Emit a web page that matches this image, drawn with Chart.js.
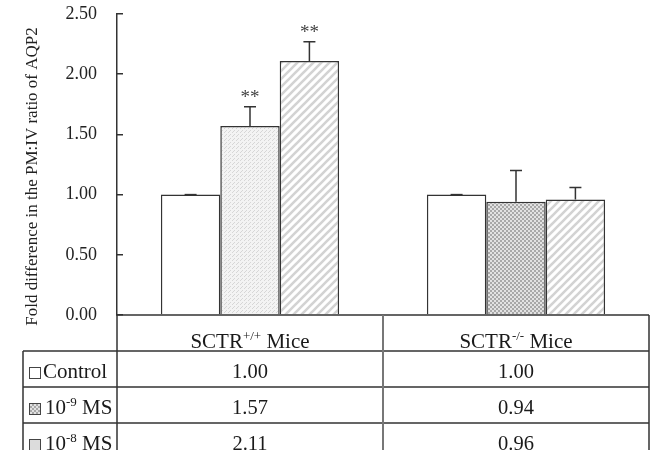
<!DOCTYPE html>
<html><head><meta charset="utf-8">
<script src="https://cdn.jsdelivr.net/npm/chart.js@4.4.1/dist/chart.umd.min.js"></script>
<style>html,body{margin:0;padding:0;background:#fff;}</style>
</head><body>
<canvas id="c" width="651" height="450"></canvas>
<script>
// ---- data ----
const categoryMain = ['SCTR', 'SCTR'];
const categorySup = ['+/+', '-/-'];
const categoryTail = [' Mice', ' Mice'];
const seriesMain = ['Control', '10', '10'];
const seriesSup = ['', '-9', '-8'];
const seriesTail = ['', ' MS', ' MS'];
const controlValues = [1.00, 1.00];
const ms9Values = [1.57, 0.94];
const ms8Values = [2.11, 0.96];
const controlErr = [0, 0];
const ms9Err = [0.16, 0.26];
const ms8Err = [0.16, 0.10];
const controlSig = ['', ''];
const ms9Sig = ['**', ''];
const ms8Sig = ['**', ''];
const yTicks = [0, 0.5, 1.0, 1.5, 2.0, 2.5];
const yTitle = 'Fold difference in the PM:IV ratio of AQP2';

const SERIF = '"Liberation Serif", "Times New Roman", serif';

// ---- patterns ----
function makeTile(size, draw) {
  const c = document.createElement('canvas');
  c.width = size; c.height = size;
  const g = c.getContext('2d');
  draw(g, size);
  return document.getElementById('c').getContext('2d').createPattern(c, 'repeat');
}
const dotPat = makeTile(4, (g) => {
  g.fillStyle = '#f3f3f3'; g.fillRect(0, 0, 4, 4);
  g.fillStyle = '#d6d6d6'; g.fillRect(0, 0, 1, 1); g.fillRect(2, 2, 1, 1); g.fillRect(1, 3, 1, 1);
});
const checkPat = makeTile(4, (g) => {
  g.fillStyle = '#e2e2e2'; g.fillRect(0, 0, 4, 4);
  g.fillStyle = '#a8a8a8'; g.fillRect(0, 0, 2, 2); g.fillRect(2, 2, 2, 2);
});
const stripePat = makeTile(8, (g, s) => {
  g.fillStyle = '#ffffff'; g.fillRect(0, 0, s, s);
  g.strokeStyle = '#d3d3d3'; g.lineWidth = 2.6;
  g.beginPath();
  g.moveTo(0, s); g.lineTo(s, 0);
  g.moveTo(-s / 2, s / 2); g.lineTo(s / 2, -s / 2);
  g.moveTo(s / 2, s * 1.5); g.lineTo(s * 1.5, s / 2);
  g.stroke();
});
const swatchFills = ['#ffffff', checkPat, '#dcdcdc'];

// ---- plugin: error bars, stars, y title, table ----
function richText(ctx, parts, x, baseline, align) {
  const sizes = [21, 13, 21];
  let w = 0;
  parts.forEach((p, i) => { ctx.font = sizes[i] + 'px ' + SERIF; w += ctx.measureText(p).width; });
  let cx = align === 'center' ? x - w / 2 : x;
  ctx.textAlign = 'left'; ctx.textBaseline = 'alphabetic';
  parts.forEach((p, i) => {
    ctx.font = sizes[i] + 'px ' + SERIF;
    ctx.fillText(p, cx, baseline - (i === 1 ? 8 : 0));
    cx += ctx.measureText(p).width;
  });
}

const extras = {
  id: 'extras',
  afterDatasetsDraw(chart) {
    const ctx = chart.ctx, ys = chart.scales.y;
    chart.data.datasets.forEach((ds, i) => {
      const meta = chart.getDatasetMeta(i);
      meta.data.forEach((bar, j) => {
        const top = ys.getPixelForValue(ds.data[j] + ds.errors[j]);
        ctx.save();
        ctx.strokeStyle = '#333'; ctx.lineWidth = 1.5;
        ctx.beginPath();
        ctx.moveTo(bar.x, bar.y); ctx.lineTo(bar.x, top);
        ctx.moveTo(bar.x - 6, top); ctx.lineTo(bar.x + 6, top);
        ctx.stroke();
        if (ds.sig[j]) {
          ctx.fillStyle = '#444';
          ctx.font = '19px ' + SERIF;
          ctx.textAlign = 'center'; ctx.textBaseline = 'alphabetic';
          ctx.fillText(ds.sig[j], bar.x, top - 4);
        }
        ctx.restore();
      });
    });
  },
  afterDraw(chart) {
    const ctx = chart.ctx, a = chart.chartArea, xs = chart.scales.x;
    const H = chart.height;
    ctx.save();
    // y title
    ctx.fillStyle = '#222';
    ctx.font = '17px ' + SERIF;
    ctx.translate(33, (a.top + a.bottom) / 2 + 12);
    ctx.rotate(-Math.PI / 2);
    ctx.textAlign = 'center'; ctx.textBaseline = 'middle';
    ctx.fillText(yTitle, 0, 0);
    ctx.restore();

    // table
    const rowH = 36, labelLeft = 23, top = a.bottom;
    const mid = (xs.getPixelForValue(0) + xs.getPixelForValue(1)) / 2;
    ctx.save();
    ctx.strokeStyle = '#333'; ctx.lineWidth = 1.5;
    ctx.beginPath();
    ctx.moveTo(a.left, top); ctx.lineTo(a.right, top);
    for (let k = 1; k <= 3; k++) { ctx.moveTo(labelLeft, top + rowH * k); ctx.lineTo(a.right, top + rowH * k); }
    ctx.moveTo(a.left, top); ctx.lineTo(a.left, H);
    ctx.moveTo(labelLeft, top + rowH); ctx.lineTo(labelLeft, H);
    ctx.moveTo(a.right, top); ctx.lineTo(a.right, H);
    ctx.stroke();
    ctx.strokeStyle = '#777'; ctx.lineWidth = 2;
    ctx.beginPath(); ctx.moveTo(mid, top); ctx.lineTo(mid, H); ctx.stroke();

    ctx.fillStyle = '#1a1a1a';
    // header
    chart.data.labels.forEach((lab, i) => {
      richText(ctx, [categoryMain[i], categorySup[i], categoryTail[i]], xs.getPixelForValue(i), top + 33, 'center');
    });
    // rows
    chart.data.datasets.forEach((ds, k) => {
      const base = top + rowH * (k + 1) + 27;
      ctx.fillStyle = swatchFills[k];
      ctx.fillRect(labelLeft + 6, base - 11, 11, 11);
      ctx.strokeStyle = '#444'; ctx.lineWidth = 1;
      ctx.strokeRect(labelLeft + 6.5, base - 10.5, 11, 11);
      ctx.fillStyle = '#1a1a1a';
      richText(ctx, [seriesMain[k], seriesSup[k], seriesTail[k]], labelLeft + (k === 0 ? 20 : 22), base, 'left');
      ds.data.forEach((v, j) => {
        ctx.font = '20.5px ' + SERIF;
        ctx.textAlign = 'center'; ctx.textBaseline = 'alphabetic';
        ctx.fillText(v.toFixed(2), xs.getPixelForValue(j), base);
      });
    });
    ctx.restore();
  }
};

new Chart(document.getElementById('c'), {
  type: 'bar',
  data: {
    labels: categoryMain.map((m, i) => m + categorySup[i] + categoryTail[i]),
    datasets: [
      { label: 'Control', data: controlValues, errors: controlErr, sig: controlSig,
        backgroundColor: ['#ffffff', '#ffffff'] },
      { label: '10-9 MS', data: ms9Values, errors: ms9Err, sig: ms9Sig,
        backgroundColor: [dotPat, checkPat] },
      { label: '10-8 MS', data: ms8Values, errors: ms8Err, sig: ms8Sig,
        backgroundColor: [stripePat, stripePat] }
    ].map(d => Object.assign(d, { borderColor: '#333', borderWidth: 1.5,
        categoryPercentage: 0.67, barPercentage: 1.0 }))
  },
  options: {
    responsive: false,
    animation: false,
    layout: { padding: { top: 14, right: 2, bottom: 135, left: 0 } },
    plugins: { legend: { display: false }, tooltip: { enabled: false } },
    scales: {
      x: { display: false },
      y: {
        min: 0, max: 2.5,
        afterBuildTicks: (s) => { s.ticks = yTicks.map(v => ({ value: v })); },
        afterFit: (s) => { s.width = 117; s.paddingTop = 0; s.paddingBottom = 0; },
        ticks: { callback: (v) => Number(v).toFixed(2), color: '#222', padding: 26,
                 font: { family: SERIF, size: 18 } },
        grid: { drawOnChartArea: false, tickLength: -6, color: '#333', lineWidth: 1.5 },
        border: { color: '#333', width: 1.5 }
      }
    }
  },
  plugins: [extras]
});
</script>
</body></html>
